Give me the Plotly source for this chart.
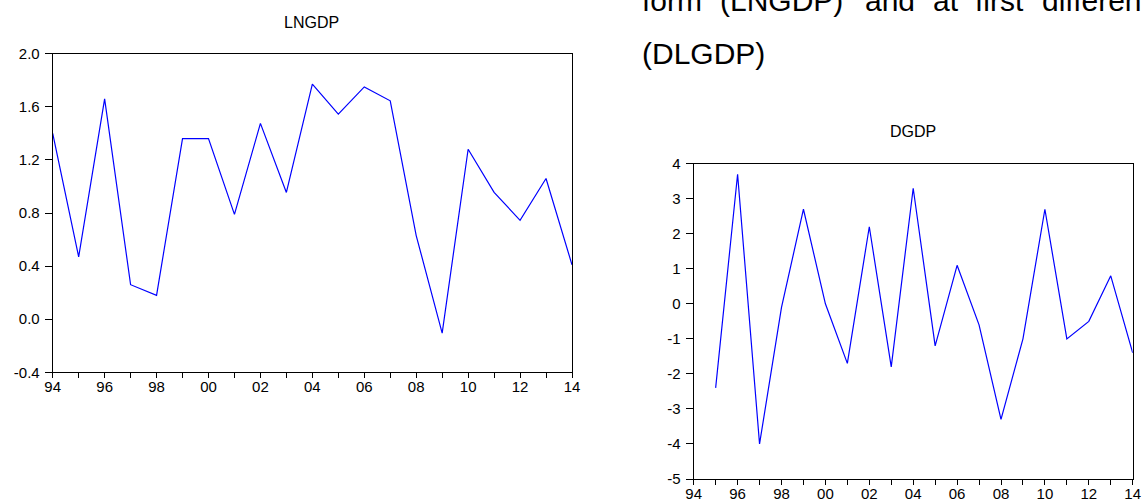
import plotly.graph_objects as go

# ---- data ----
years_ln = list(range(1994, 2015))
lngdp = [1.40, 0.47, 1.66, 0.26, 0.18, 1.36, 1.36, 0.79, 1.475, 0.955, 1.77,
         1.545, 1.75, 1.645, 0.63, -0.105, 1.28, 0.955, 0.745, 1.06, 0.41]

years_d = list(range(1995, 2015))
dgdp = [-2.4, 3.7, -4.0, -0.1, 2.7, 0.0, -1.7, 2.2, -1.8, 3.3, -1.2,
        1.1, -0.6, -3.3, -1.0, 2.7, -1.0, -0.5, 0.8, -1.4]

tick_years = list(range(1994, 2015))
tick_labels = ["94", "", "96", "", "98", "", "00", "", "02", "", "04", "",
               "06", "", "08", "", "10", "", "12", "", "14"]

ln_yticks = [-0.4, 0.0, 0.4, 0.8, 1.2, 1.6, 2.0]
d_yticks = [-5, -4, -3, -2, -1, 0, 1, 2, 3, 4]

titles = ["LNGDP", "DGDP"]
line1_words = ["form", "(LNGDP)", "and", "at", "first", "differences"]
line2_text = "(DLGDP)"

# ---- layout geometry ----
W, H = 1142, 501
FONT = "Liberation Sans, Arial, sans-serif"


def px_x(a, b):
    return [a / W, b / W]


def px_y(top, bottom):
    return [1 - bottom / H, 1 - top / H]


fig = go.Figure()
fig.add_trace(go.Scatter(x=years_ln, y=lngdp, mode="lines",
                         line=dict(color="#0000FF", width=1.2),
                         xaxis="x", yaxis="y", showlegend=False))
fig.add_trace(go.Scatter(x=years_d, y=dgdp, mode="lines",
                         line=dict(color="#0000FF", width=1.2),
                         xaxis="x2", yaxis="y2", showlegend=False))

axis_common = dict(showgrid=False, zeroline=False, showline=True, mirror=True,
                   linecolor="black", linewidth=1, ticks="outside",
                   tickcolor="black", tickwidth=1, automargin=False,
                   tickfont=dict(family=FONT, size=15, color="black"))

xcommon = dict(axis_common, range=[1994, 2014], tickmode="array",
               tickvals=tick_years, ticktext=tick_labels, ticklen=5,
               ticklabelstandoff=-4)

fig.update_layout(
    width=W, height=H,
    margin=dict(l=0, r=0, t=0, b=0, autoexpand=False),
    paper_bgcolor="white", plot_bgcolor="white",
    xaxis=dict(xcommon, domain=px_x(52.7, 572), anchor="y"),
    yaxis=dict(axis_common, domain=px_y(53.7, 372.3), anchor="x",
               range=[-0.4, 2.0], tickmode="array", tickvals=ln_yticks,
               ticktext=[f"{v:.1f}" for v in ln_yticks], ticklen=7,
               ticklabelstandoff=2),
    xaxis2=dict(xcommon, domain=px_x(693.7, 1132.7), anchor="y2"),
    yaxis2=dict(axis_common, domain=px_y(163.7, 479), anchor="x2",
                range=[-5, 4], tickmode="array", tickvals=d_yticks,
                ticktext=[str(v) for v in d_yticks], ticklen=7,
                ticklabelstandoff=2),
)

# chart titles
title_pos = [(312, 22), (913, 131)]
for t, (cx, cy) in zip(titles, title_pos):
    fig.add_annotation(text=t, x=cx / W, y=1 - cy / H, xref="paper", yref="paper",
                       xanchor="center", yanchor="middle", showarrow=False,
                       font=dict(family=FONT, size=16, color="black"))

# surrounding document text (justified line, clipped at top and right edge as in the source)
word_x = [640, 718, 863, 931, 972.5, 1040]
for w, wx in zip(line1_words, word_x):
    fig.add_annotation(text=w, x=wx / W, y=1 - 0 / H, xref="paper", yref="paper",
                       xanchor="left", yanchor="middle", showarrow=False,
                       font=dict(family=FONT, size=30, color="black"))
fig.add_annotation(text=line2_text, x=640 / W, y=1 - 54 / H, xref="paper", yref="paper",
                   xanchor="left", yanchor="middle", showarrow=False,
                   font=dict(family=FONT, size=30, color="black"))

fig.write_html("out.html", config={"displayModeBar": False},
               post_script="document.body.style.margin='0';")
